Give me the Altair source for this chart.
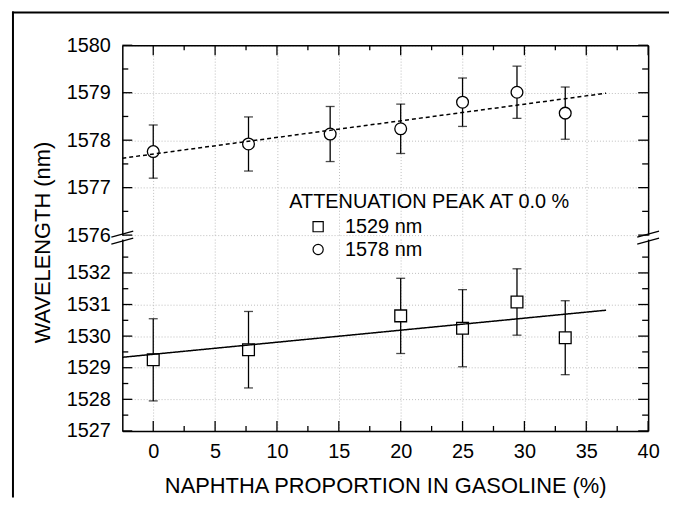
import altair as alt
import pandas as pd

# ---- data ----
naphtha_1529 = [0, 7.7, 20, 25, 29.4, 33.3]
peak_1529 = [1529.25, 1529.57, 1530.64, 1530.25, 1531.08, 1529.95]
err_1529 = [1.30, 1.21, 1.19, 1.22, 1.05, 1.17]

naphtha_1578 = [0, 7.7, 14.3, 20, 25, 29.4, 33.3]
peak_1578 = [1577.76, 1577.92, 1578.13, 1578.24, 1578.80, 1579.01, 1578.57]
err_1578 = [0.56, 0.57, 0.58, 0.52, 0.51, 0.55, 0.55]

fit_x = [-2.5, 36.6]
fit_1529 = [1529.33, 1530.82]
fit_1578 = [1577.62, 1578.99]

legend_title = "ATTENUATION PEAK AT 0.0 %"
series_labels = ["1529 nm", "1578 nm"]
series_shapes = ["square", "circle"]

x_major = [0, 5, 10, 15, 20, 25, 30, 35, 40]
x_minor = [2.5, 7.5, 12.5, 17.5, 22.5, 27.5, 32.5, 37.5]
y_low_major = [1527, 1528, 1529, 1530, 1531, 1532]
y_low_minor = [1527.5, 1528.5, 1529.5, 1530.5, 1531.5, 1532.5]
y_up_major = [1576, 1577, 1578, 1579, 1580]
y_up_minor = [1576.5, 1577.5, 1578.5, 1579.5]

X_DOMAIN = [-2.5, 40]
Y_LOW_DOMAIN = [1527, 1533.07]
Y_UP_DOMAIN = [1576, 1580]

FONT = "Liberation Sans"
W = 529
TW = 1.3  # tick width


def make_df(xs, ys, es, label):
    return pd.DataFrame({
        "x": xs, "y": ys,
        "lo": [a - b for a, b in zip(ys, es)],
        "hi": [a + b for a, b in zip(ys, es)],
        "series": label,
    })


df_low = make_df(naphtha_1529, peak_1529, err_1529, series_labels[0])
df_up = make_df(naphtha_1578, peak_1578, err_1578, series_labels[1])
fit_low = pd.DataFrame({"x": fit_x, "y": fit_1529})
fit_up = pd.DataFrame({"x": fit_x, "y": fit_1578})
one = pd.DataFrame({"k": [0]})

XS = alt.Scale(domain=X_DOMAIN, nice=False, zero=False)


def panel(df, fit_df, ydom, ymaj, ymin, height, upper):
    ys = alt.Scale(domain=ydom, nice=False, zero=False)
    y_per_px = (ydom[1] - ydom[0]) / height
    x_per_px = (X_DOMAIN[1] - X_DOMAIN[0]) / W
    if upper:
        xa = alt.Axis(orient="top", values=x_major, labels=False, ticks=False,
                      grid=True, domain=True, title=None)
        ya = alt.Axis(orient="left", values=ymaj, labels=True, ticks=False,
                      grid=True, domain=True, labelFlush=False, labelOverlap=False,
                      labelPadding=12, format="d", title=None)
        dash = [4, 3]
        x_edge, sgn = ydom[1], -1
    else:
        xa = alt.Axis(orient="bottom", values=x_major, labels=True, ticks=False,
                      grid=True, domain=True, labelFlush=False, labelOverlap=False,
                      labelPadding=11, title="NAPHTHA PROPORTION IN GASOLINE (%)",
                      titlePadding=14)
        ya = alt.Axis(orient="left", values=ymaj, labels=True, ticks=False,
                      grid=True, domain=True, labelFlush=False, labelOverlap=False,
                      labelPadding=12, format="d", title="WAVELENGTH (nm)",
                      titlePadding=12, titleY=3)
        dash = [1, 0]
        x_edge, sgn = ydom[0], 1

    base = alt.Chart(df)

    def X(ax, field="x"):
        return alt.X(f"{field}:Q", scale=XS, axis=ax)

    def Y(field, ax):
        return alt.Y(f"{field}:Q", scale=ys, axis=ax)

    err = base.mark_rule(color="black", strokeWidth=1.3).encode(
        x=X(xa), y=Y("lo", ya), y2="hi:Q")

    # inward tick marks: short segments from each edge, placed by the scales
    ticks = []
    for vals, ln in ((x_major, 10), (x_minor, 5)):
        d = pd.DataFrame({"x": vals, "lo": x_edge,
                          "hi": x_edge + sgn * ln * y_per_px})
        ticks.append(alt.Chart(d).mark_rule(color="black", strokeWidth=TW).encode(
            x=X(None), y=Y("lo", None), y2="hi:Q"))
    for vals, ln in ((ymaj, 10), (ymin, 6)):
        for edge, s in ((X_DOMAIN[0], 1), (X_DOMAIN[1], -1)):
            d = pd.DataFrame({"y": vals, "xa": edge,
                              "xb": edge + s * ln * x_per_px})
            ticks.append(alt.Chart(d).mark_rule(color="black", strokeWidth=TW).encode(
                y=Y("y", None), x=X(None, "xa"), x2="xb:Q"))

    cap_hi = base.mark_tick(orient="horizontal", size=9, thickness=1.3,
                            color="black").encode(x=X(None), y=Y("hi", None))
    cap_lo = base.mark_tick(orient="horizontal", size=9, thickness=1.3,
                            color="black").encode(x=X(None), y=Y("lo", None))
    pts = base.mark_point(filled=True, fill="white", stroke="black",
                          strokeWidth=1.3, size=140, opacity=1).encode(
        x=X(None), y=Y("y", None),
        shape=alt.Shape("series:N",
                        scale=alt.Scale(domain=series_labels, range=series_shapes),
                        legend=None))
    fit = alt.Chart(fit_df).mark_line(color="black", strokeWidth=1.5,
                                      strokeDash=dash).encode(
        x=X(None), y=Y("y", None))
    right = base.mark_point(opacity=0).encode(
        x=X(None), y=Y("y", alt.Axis(orient="right", values=ymaj, labels=False,
                                     ticks=False, grid=False, domain=True, title=None)))

    layers = [err] + ticks + [cap_hi, cap_lo, pts, fit, right]

    if upper:
        frame_top = alt.Chart(one).mark_rule(color="black", strokeWidth=2).encode(
            x=alt.value(-111), x2=alt.value(550), y=alt.value(-33))
        frame_left = alt.Chart(one).mark_rule(color="black", strokeWidth=2).encode(
            x=alt.value(-110), y=alt.value(-34), y2=alt.value(455))
        layers += [frame_top, frame_left]
    else:
        # axis-break marks
        for xc in (0, W):
            for dy in (0, 7):
                layers.append(alt.Chart(one).mark_rule(color="black", strokeWidth=1.2).encode(
                    x=alt.value(xc - 11), x2=alt.value(xc + 11),
                    y=alt.value(-2 + dy), y2=alt.value(-8 + dy)))
        # legend
        layers.append(alt.Chart(pd.DataFrame({"t": [legend_title]})).mark_text(
            align="left", baseline="alphabetic", font=FONT, fontSize=20, color="black"
        ).encode(text="t:N", x=alt.value(168), y=alt.value(-31)))
        for i, (lab, shp) in enumerate(zip(series_labels, series_shapes)):
            yc = -12.5 + 23 * i
            d = pd.DataFrame({"t": [lab]})
            layers.append(alt.Chart(d).mark_point(
                shape=shp, filled=True, fill="white", stroke="black",
                strokeWidth=1.2, size=105, opacity=1
            ).encode(x=alt.value(197), y=alt.value(yc)))
            layers.append(alt.Chart(d).mark_text(
                align="left", baseline="alphabetic", font=FONT, fontSize=20, color="black"
            ).encode(text="t:N", x=alt.value(224), y=alt.value(yc + 6.8)))

    return alt.layer(*layers).resolve_axis(x="independent", y="independent").properties(
        width=W, height=height)


upper = panel(df_up, fit_up, Y_UP_DOMAIN, y_up_major, y_up_minor, 191, True)
lower = panel(df_low, fit_low, Y_LOW_DOMAIN, y_low_major, y_low_minor, 193, False)

chart = alt.vconcat(upper, lower, spacing=4, bounds="flush").resolve_scale(
    shape="independent").properties(
    padding={"left": 3, "top": 1, "right": 0, "bottom": 0}
).configure_view(stroke=None).configure_axis(
    labelFont=FONT, labelFontSize=20, labelColor="black",
    titleFont=FONT, titleFontSize=22, titleFontWeight="normal", titleColor="black",
    domainColor="black", domainWidth=1.5,
    gridColor="#bdbdbd", gridDash=[1, 2], gridWidth=1,
)

chart.save("out.html", embed_options={"renderer": "svg", "actions": False})
